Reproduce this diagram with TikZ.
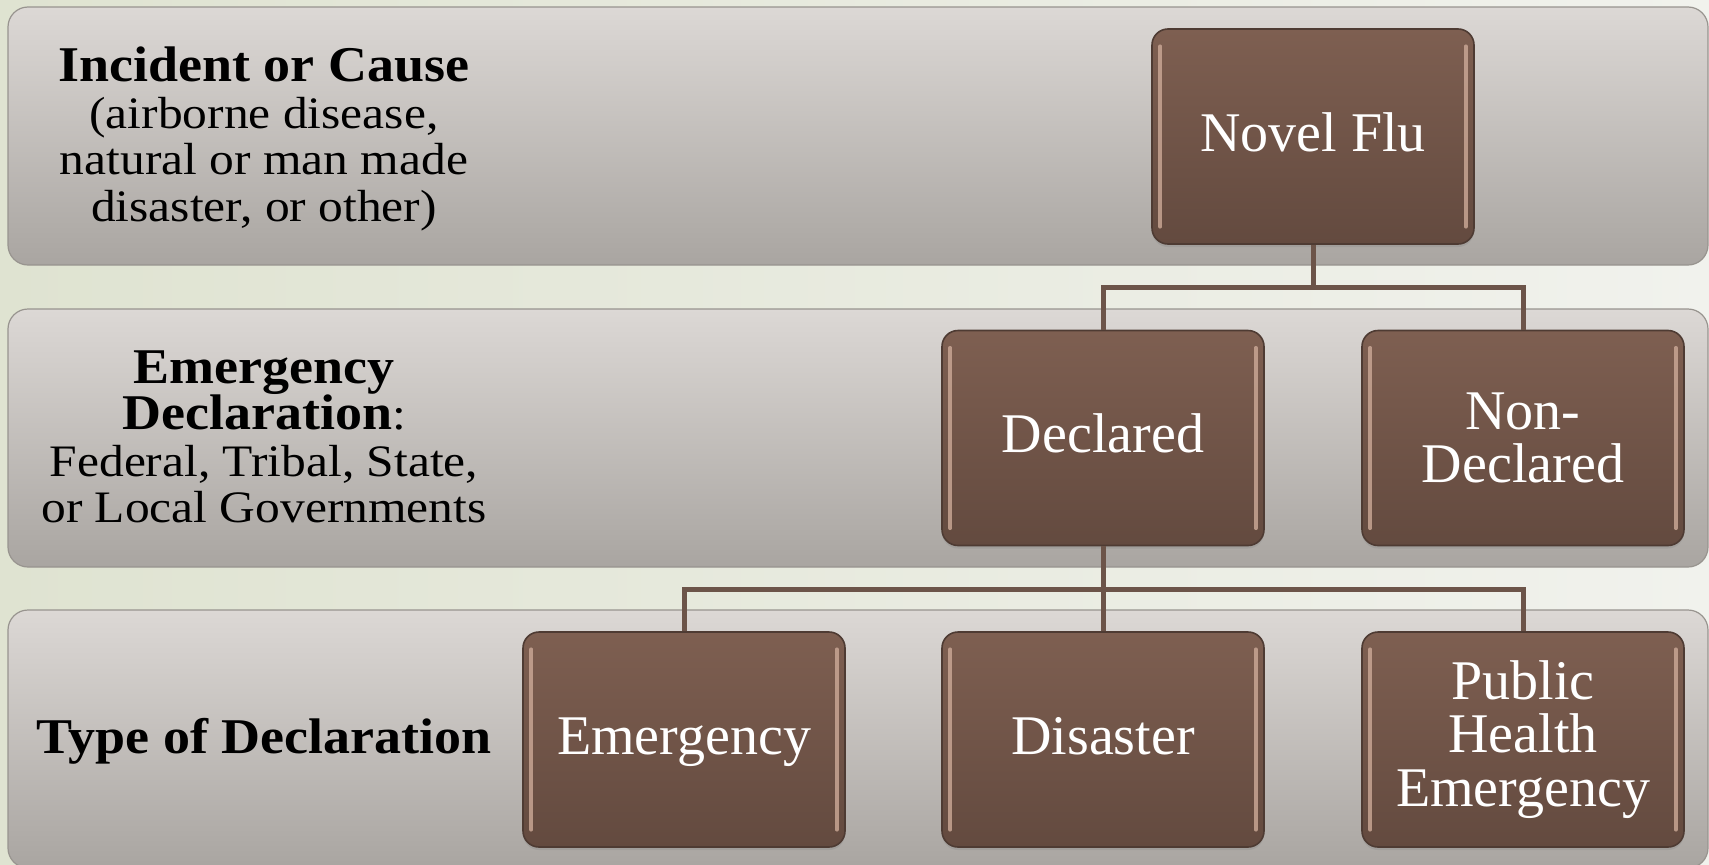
\documentclass[tikz,border=0pt]{standalone}
\usepackage{fontspec}
\setmainfont{Liberation Serif}
\newfontfamily\lblfont[FakeStretch=1.1]{Liberation Serif}
\newfontfamily\lblbold[FakeStretch=1.08]{Liberation Serif}
\usetikzlibrary{shadows}

\definecolor{bgleft}{HTML}{DFE3D1}
\definecolor{bgright}{HTML}{F1F2ED}
\definecolor{bandtop}{HTML}{DCD8D5}
\definecolor{bandbot}{HTML}{A9A5A1}
\definecolor{bandline}{HTML}{98948F}
\definecolor{boxtop}{HTML}{7E5F51}
\definecolor{boxbot}{HTML}{634A3F}
\definecolor{boxline}{HTML}{4E3B33}
\definecolor{boxshine}{HTML}{CDAA98}
\definecolor{tiecolor}{HTML}{6C5449}

\begin{document}
\begin{tikzpicture}[x=1pt,y=-1pt,
  band/.style={draw=bandline, line width=1.2pt, rounded corners=20pt,
    top color=bandtop, bottom color=bandbot},
  tbox/.style={rectangle, rounded corners=16pt, minimum width=322pt,
    minimum height=215pt, inner sep=0pt, draw=boxline, line width=1.6pt,
    top color=boxtop, bottom color=boxbot, text=white, align=center,
    drop shadow={shadow xshift=0pt, shadow yshift=-3pt, opacity=0.25},
    font=\fontsize{56}{53.5}\selectfont},
  oneline/.style={text height=38pt, text depth=9pt},
  rowlabel/.style={align=center, text=black, inner sep=0pt,
    font=\lblfont\fontsize{45}{46.5}\selectfont},
  tie/.style={draw=tiecolor, line width=5pt},
  shine/.style={draw=boxshine, line width=3.5pt, line cap=round, opacity=0.8}
]
% page and background
\useasboundingbox (0,0) rectangle (1709,865);
\path[left color=bgleft, right color=bgright] (0,0) rectangle (1709,865);

% the three level bands
\path[band] (8,7)   rectangle (1708,265);
\path[band] (8,309) rectangle (1708,567);
\path[band] (8,610) rectangle (1708,868);

% level labels
\node[rowlabel] (lab1) at (264,139)
  {{\lblbold\bfseries\fontsize{50}{46.5}\selectfont Incident or Cause}\\
   (airborne disease,\\natural or man made\\disaster, or other)};
\node[rowlabel] (lab2) at (264,437)
  {{\lblbold\bfseries\fontsize{50}{46.5}\selectfont Emergency}\\
   {\lblbold\bfseries\fontsize{50}{46.5}\selectfont Declaration}:\\
   Federal, Tribal, State,\\or Local Governments};
\node[rowlabel, font=\lblbold\bfseries\fontsize{50}{46.5}\selectfont]
  (lab3) at (264,741) {Type of Declaration};

% hierarchy boxes
\node[tbox, oneline] (nf)      at (1313,136.5) {Novel Flu};
\node[tbox, oneline] (decl)    at (1103,438)   {Declared};
\node[tbox]          (nondecl) at (1523,438)   {Non-\\Declared};
\node[tbox, oneline] (emerg)   at (684,739.5)  {Emergency};
\node[tbox, oneline] (dis)     at (1103,739.5) {Disaster};
\node[tbox]          (phe)     at (1523,739.5) {Public\\Health\\Emergency};

% glossy side highlights
\foreach \n in {nf,decl,nondecl,emerg,dis,phe}{
  \draw[shine] ([xshift=9pt,yshift=-18pt]\n.north west) -- ([xshift=9pt,yshift=18pt]\n.south west);
  \draw[shine] ([xshift=-9pt,yshift=-18pt]\n.north east) -- ([xshift=-9pt,yshift=18pt]\n.south east);
}

% connectors
\draw[tie] (nf.south) -- ++(0,43) -| (decl.north);
\draw[tie] (nf.south) -- ++(0,43) -| (nondecl.north);
\draw[tie] (decl.south) -- ++(0,43) -| (emerg.north);
\draw[tie] (decl.south) -- (dis.north);
\draw[tie] (decl.south) -- ++(0,43) -| (phe.north);
\end{tikzpicture}
\end{document}
